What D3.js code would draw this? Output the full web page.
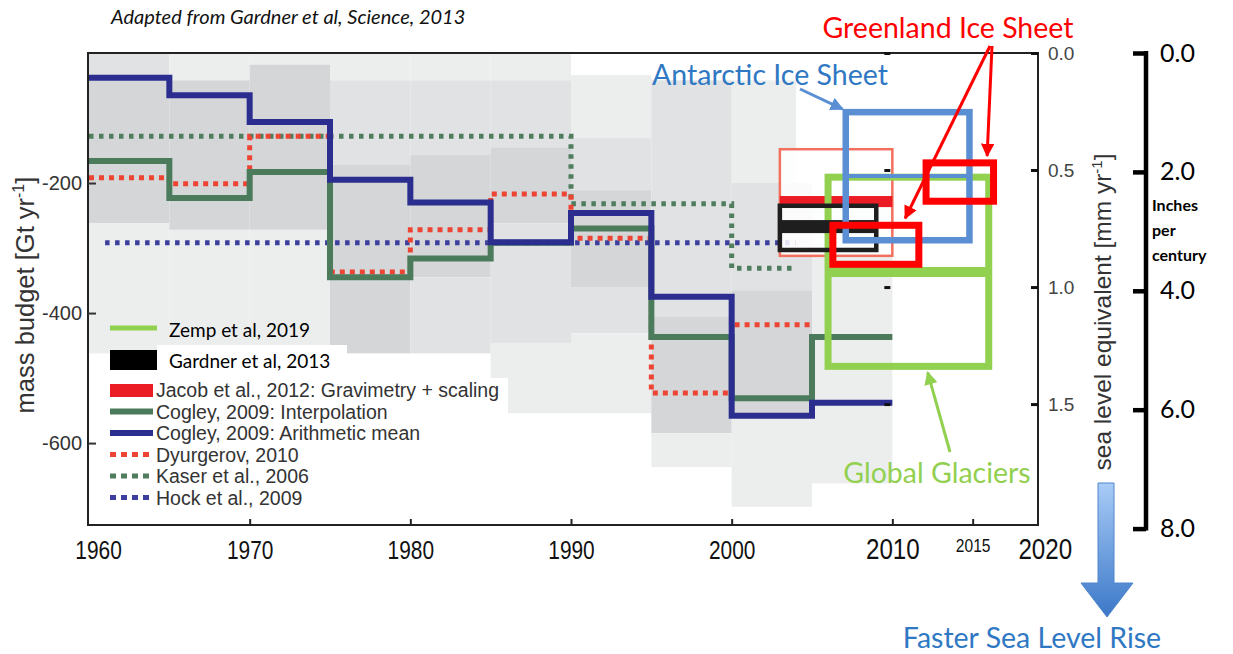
<!DOCTYPE html>
<html lang="en">
<head>
<meta charset="UTF-8">
<title>Global glacier mass budgets</title>
<script src="https://d3js.org/d3.v7.min.js"></script>
<style>
  body { margin: 0; background: #fff; }
  svg { display: block; }
  .cal { font-family: Lato, "Open Sans", sans-serif; }
  .ari { font-family: "Liberation Sans", Arial, sans-serif; }
</style>
</head>
<body>
<svg id="chart" width="1233" height="654"></svg>
<script>
// pentad start years, Cogley 2009 and Dyurgerov 2010 (Gt/yr)
const pentads      = [1960, 1965, 1970, 1975, 1980, 1985, 1990, 1995, 2000, 2005];
const cogleyMean   = [-38, -65, -106, -195, -230, -291, -246, -375, -558, -538];
const cogleyInterp = [-166, -223, -183, -345, -316, -292, -270, -437, -531, -437];
const dyurgerov    = [-192, -201, -128, -337, -272, -217, -285, -523, -418];
// Kaser 2006 and Hock 2009
const kaserYears = [1960, 1990, 2000, 2004];
const kaser      = [-128, -232, -331];
const hockYears  = [1961, 2004];
const hock       = [-292];
// Gardner 2013, Jacob 2012 (2003-2009/2010)
const gardnerYears = [2003, 2009];
const gardnerRange = [-235, -303];
const gardnerMean  = [-257, -277];
const jacobYears = [2003, 2010];
const jacobRange = [-148, -312];
const jacobMean  = [-220, -237];
// Zemp 2019 global glaciers (2006-2016)
const zempYears = [2006, 2016];
const zempRange = [-191, -482];
const zempMean  = -337;
// ice sheets, drawn in the same units
const aisYears = [2007.1, 2014.8];
const aisRange = [-91, -288];
const aisMid   = -189;
const gisBoxes = [[2006.3, 2011.65, -265, -325], [2012.1, 2016.3, -169, -228]];
// grey uncertainty shading: start, end, top, bottom, depth
const shading = [
  [1960,1965,0,-42,2],[1960,1965,-42,-262,3],[1960,1965,-262,-462,1],
  [1965,1970,0,-42,1],[1965,1970,-42,-272,3],[1965,1970,-272,-462,1],
  [1970,1975,0,-18,1],[1970,1975,-18,-272,3],[1970,1975,-272,-462,1],
  [1975,1980,0,-42,1],[1975,1980,-42,-172,2],[1975,1980,-172,-462,3],
  [1980,1985,0,-42,1],[1980,1985,-42,-157,2],[1980,1985,-157,-345,3],[1980,1985,-345,-462,2],
  [1985,1990,0,-42,1],[1985,1990,-42,-145,2],[1985,1990,-145,-262,3],[1985,1990,-262,-446,2],[1985,1990,-446,-554,1],
  [1990,1995,-34,-131,1],[1990,1995,-131,-211,2],[1990,1995,-211,-360,3],[1990,1995,-360,-431,2],[1990,1995,-431,-554,1],
  [1995,2000,-42,-406,2],[1995,2000,-406,-585,3],[1995,2000,-585,-637,1],
  [2000,2004,-42,-200,1],
  [2000,2005,-200,-365,2],[2000,2005,-365,-554,3],[2000,2005,-554,-698,1],
  [2005,2010,-211,-662,1]
];
const xTicks   = [1960, 1970, 1980, 1990, 2000, 2010, 2015, 2020];
const gtTicks  = [-200, -400, -600];
const mmTicks  = [0, 0.5, 1.0, 1.5];
const inTicks  = [0, 2, 4, 6, 8];

const svg = d3.select("#chart");
const pLeft = 88, pRight = 1038, pTop = 53, pBottom = 525;
const x = d3.scaleLinear().domain([1960, 2020]).range([89, 1053]);
const y = d3.scaleLinear().domain([0, -726]).range([pTop, pBottom]);
const sle = d3.scaleLinear().domain([0, 726 / 360]).range([pTop, pBottom]);          // mm/yr
const inch = d3.scaleLinear().domain([0, 726 / 360 * 100 / 25.4]).range([pTop, pBottom]); // in/century
const greys = ["#ffffff", "#eceeee", "#e0e2e3", "#d4d6d8"];

const defs = svg.append("defs");
function marker(id, color) {
  defs.append("marker").attr("id", id).attr("viewBox", "0 0 10 10")
    .attr("refX", 9).attr("refY", 5).attr("markerWidth", 4.5).attr("markerHeight", 4.5)
    .attr("markerUnits", "strokeWidth").attr("orient", "auto")
    .append("path").attr("d", "M0,0L10,5L0,10z").attr("fill", color);
}
marker("hRed", "#ff0000"); marker("hBlue", "#5b8fd4"); marker("hGreen", "#92d050");
const grad = defs.append("linearGradient").attr("id", "fall").attr("x1", 0).attr("y1", 0).attr("x2", 0).attr("y2", 1);
grad.append("stop").attr("offset", "0%").attr("stop-color", "#a9cbf7");
grad.append("stop").attr("offset", "100%").attr("stop-color", "#3b78c8");

// 1. grey shading
svg.append("g").selectAll("rect").data(shading).enter().append("rect")
  .attr("x", d => x(d[0])).attr("width", d => x(d[1]) - x(d[0]))
  .attr("y", d => y(d[2])).attr("height", d => y(d[3]) - y(d[2]))
  .attr("fill", d => greys[d[4]]);

// legend backing
svg.append("rect").attr("x", 98).attr("y", 378).attr("width", 410).attr("height", 140).attr("fill", "#fff");
svg.append("rect").attr("x", 157).attr("y", 345).attr("width", 190).attr("height", 33).attr("fill", "#fff");

// 2. step lines
function steps(starts, vals, end) {
  const pts = starts.slice(0, vals.length).map((s, i) => [s, vals[i]]);
  pts.push([end, vals[vals.length - 1]]);
  return pts;
}
const step = d3.line().x(d => x(d[0])).y(d => y(d[1])).curve(d3.curveStepAfter);
const series = [
  {pts: steps(hockYears, hock, hockYears[1]), color: "#3d3f9e", w: 5, dash: "4.5,5.5"},
  {pts: steps(kaserYears, kaser, kaserYears[3]), color: "#4f7d5e", w: 5, dash: "4.5,5.5"},
  {pts: steps(pentads, dyurgerov, 2005), color: "#ee4433", w: 5, dash: "5,5"},
  {pts: steps(pentads, cogleyInterp, 2010), color: "#4b7b5b", w: 6},
  {pts: steps(pentads, cogleyMean, 2010), color: "#2b2e8f", w: 6}
];
svg.append("g").selectAll("path").data(series).enter().append("path")
  .attr("d", d => step(d.pts)).attr("fill", "none")
  .attr("stroke", d => d.color).attr("stroke-width", d => d.w)
  .attr("stroke-dasharray", d => d.dash || null);

// 3. Jacob 2012
svg.append("rect").attr("x", x(jacobYears[0])).attr("y", y(jacobRange[0]))
  .attr("width", x(jacobYears[1]) - x(jacobYears[0])).attr("height", y(jacobRange[1]) - y(jacobRange[0]))
  .attr("fill", "#fff").attr("fill-opacity", 0.85).attr("stroke", "#f2705e").attr("stroke-width", 2.5);
svg.append("rect").attr("x", x(jacobYears[0])).attr("y", y(jacobMean[0]))
  .attr("width", x(jacobYears[1]) - x(jacobYears[0])).attr("height", y(jacobMean[1]) - y(jacobMean[0]))
  .attr("fill", "#ec1c24");

// Zemp 2019 box
svg.append("rect").attr("x", x(zempYears[0])).attr("y", y(zempRange[0]))
  .attr("width", x(zempYears[1]) - x(zempYears[0])).attr("height", y(zempRange[1]) - y(zempRange[0]))
  .attr("fill", "none").attr("stroke", "#92d050").attr("stroke-width", 7);
svg.append("line").attr("x1", x(zempYears[0])).attr("x2", x(zempYears[1]))
  .attr("y1", y(zempMean)).attr("y2", y(zempMean)).attr("stroke", "#92d050").attr("stroke-width", 10);

// Gardner 2013
svg.append("rect").attr("x", x(gardnerYears[0])).attr("y", y(gardnerRange[0]))
  .attr("width", x(gardnerYears[1]) - x(gardnerYears[0])).attr("height", y(gardnerRange[1]) - y(gardnerRange[0]))
  .attr("fill", "none").attr("stroke", "#1e1e1e").attr("stroke-width", 4.5);
svg.append("rect").attr("x", x(gardnerYears[0])).attr("y", y(gardnerMean[0]))
  .attr("width", x(gardnerYears[1]) - x(gardnerYears[0])).attr("height", y(gardnerMean[1]) - y(gardnerMean[0]))
  .attr("fill", "#1e1e1e");

// Antarctic box
svg.append("rect").attr("x", x(aisYears[0])).attr("y", y(aisRange[0]))
  .attr("width", x(aisYears[1]) - x(aisYears[0])).attr("height", y(aisRange[1]) - y(aisRange[0]))
  .attr("fill", "none").attr("stroke", "#5b8fd4").attr("stroke-width", 6.5);
svg.append("line").attr("x1", x(aisYears[0])).attr("x2", x(aisYears[1]))
  .attr("y1", y(aisMid)).attr("y2", y(aisMid)).attr("stroke", "#5b8fd4").attr("stroke-width", 4);

// Greenland boxes
svg.append("g").selectAll("rect").data(gisBoxes).enter().append("rect")
  .attr("x", d => x(d[0])).attr("y", d => y(d[2]))
  .attr("width", d => x(d[1]) - x(d[0])).attr("height", d => y(d[3]) - y(d[2]))
  .attr("fill", "none").attr("stroke", "#ff0000").attr("stroke-width", 7);

// 4. frame and axes
svg.append("rect").attr("x", pLeft).attr("y", pTop).attr("width", pRight - pLeft).attr("height", pBottom - pTop)
  .attr("fill", "none").attr("stroke", "#222").attr("stroke-width", 2);

const gAxL = svg.append("g").attr("transform", `translate(${pLeft},0)`)
  .call(d3.axisLeft(y).tickValues(gtTicks).tickSize(-8).tickPadding(6).tickFormat(d => String(d)));
gAxL.select(".domain").remove();
gAxL.selectAll("line").attr("stroke", "#333").attr("stroke-width", 2);
gAxL.selectAll("text").attr("class", "ari").attr("font-size", 20).attr("fill", "#333");

const gAxB = svg.append("g").attr("transform", `translate(0,${pBottom})`)
  .call(d3.axisBottom(x).tickValues(xTicks).tickSize(-6).tickPadding(16).tickFormat(d3.format("d")));
gAxB.select(".domain").remove();
gAxB.selectAll("line").attr("stroke", "#222").attr("stroke-width", 2)
  .attr("display", d => (d === 1960 || d === 2020) ? "none" : null);
// condensed look of the original tick labels
gAxB.selectAll("text")
  .attr("class", "ari").attr("transform", "scale(0.82,1)")
  .attr("font-size", d => d === 2015 ? 19 : (d === 2010 || d === 2020) ? 29.5 : 25.5)
  .attr("fill", "#111")
  .attr("dy", d => d === 2015 ? "0.6em" : (d === 2010 || d === 2020) ? "0.6em" : "0.71em")
  .attr("dx", d => d === 1960 ? 11 : d === 2020 ? -10 : 0);

// old right axis at 2010
const gOld = svg.append("g").attr("transform", `translate(${x(2010) - 2},0)`)
  .call(d3.axisRight(sle).tickValues(mmTicks).tickSize(-6).tickFormat(""));
gOld.select(".domain").remove();
gOld.selectAll("line").attr("stroke", "#111").attr("stroke-width", 3);

const gAxR = svg.append("g").attr("transform", `translate(${pRight},0)`)
  .call(d3.axisRight(sle).tickValues(mmTicks).tickSize(-7).tickPadding(10).tickFormat(d3.format(".1f")));
gAxR.select(".domain").remove();
gAxR.selectAll("line").attr("stroke", "#111").attr("stroke-width", 3);
gAxR.selectAll("text").attr("class", "ari").attr("font-size", 19).attr("fill", "#444");

const gIn = svg.append("g").attr("transform", "translate(1146,0)")
  .call(d3.axisRight(inch).tickValues(inTicks).tickSize(-13).tickSizeOuter(0).tickPadding(14).tickFormat(d3.format(".1f")));
gIn.select(".domain").attr("stroke", "#000").attr("stroke-width", 4.5)
  .attr("d", `M0,${inch(0) - 2}V${inch(8) + 2}`);
gIn.selectAll("line").attr("stroke", "#000").attr("stroke-width", 4.5);
gIn.selectAll("text").attr("class", "cal").attr("font-size", 25).attr("fill", "#000");

// axis titles
const tL = svg.append("text").attr("class", "ari").attr("font-size", 25.5).attr("fill", "#333")
  .attr("text-anchor", "middle").attr("transform", "translate(34,295) rotate(-90)");
tL.append("tspan").text("mass budget [Gt yr");
tL.append("tspan").attr("font-size", 16).attr("dy", -10).text("-1");
tL.append("tspan").attr("dy", 10).text("]");
const tR = svg.append("text").attr("class", "ari").attr("font-size", 24.5).attr("fill", "#333")
  .attr("text-anchor", "middle").attr("transform", "translate(1111,312) rotate(-90)");
tR.append("tspan").text("sea level equivalent [mm yr");
tR.append("tspan").attr("font-size", 15).attr("dy", -9).text("-1");
tR.append("tspan").attr("dy", 9).text("]");

["Inches", "per", "century"].forEach((t, i) => {
  svg.append("text").attr("class", "cal").attr("x", 1152).attr("y", 211 + i * 25)
    .attr("font-size", 16).attr("font-weight", 700).attr("fill", "#000").text(t);
});

svg.append("text").attr("class", "cal").attr("x", 111).attr("y", 24).attr("font-size", 20)
  .attr("font-style", "italic").attr("fill", "#111").text("Adapted from Gardner et al, Science, 2013");

// 5. legend
const legRows = [
  {label: "Jacob et al., 2012: Gravimetry + scaling", color: "#ec1c24", kind: "box"},
  {label: "Cogley, 2009: Interpolation", color: "#4b7b5b", kind: "line"},
  {label: "Cogley, 2009: Arithmetic mean", color: "#2b2e8f", kind: "line"},
  {label: "Dyurgerov, 2010", color: "#ee4433", kind: "dot"},
  {label: "Kaser et al., 2006", color: "#4f7d5e", kind: "dot"},
  {label: "Hock et al., 2009", color: "#3d3f9e", kind: "dot"}
];
svg.append("line").attr("x1", 110).attr("x2", 157).attr("y1", 328).attr("y2", 328)
  .attr("stroke", "#92d050").attr("stroke-width", 5);
svg.append("text").attr("class", "cal").attr("x", 169).attr("y", 337).attr("font-size", 19)
  .attr("fill", "#000").text("Zemp et al, 2019");
svg.append("rect").attr("x", 110).attr("y", 350).attr("width", 47).attr("height", 20).attr("fill", "#000");
svg.append("text").attr("class", "cal").attr("x", 169).attr("y", 368).attr("font-size", 19)
  .attr("fill", "#000").text("Gardner et al, 2013");
legRows.forEach((r, i) => {
  const cy = 390 + i * 21.5;
  if (r.kind === "box") {
    svg.append("rect").attr("x", 110).attr("y", cy - 6).attr("width", 43).attr("height", 13).attr("fill", r.color);
  } else {
    svg.append("line").attr("x1", 110).attr("x2", 153).attr("y1", cy).attr("y2", cy)
      .attr("stroke", r.color).attr("stroke-width", r.kind === "line" ? 6 : 5)
      .attr("stroke-dasharray", r.kind === "dot" ? "6,5" : null);
  }
  svg.append("text").attr("class", "ari").attr("x", 156).attr("y", cy + 7).attr("font-size", 19.5)
    .attr("fill", "#333").text(r.label);
});

// 6. annotations
svg.append("text").attr("class", "cal").attr("x", 948).attr("y", 38).attr("text-anchor", "middle")
  .attr("font-size", 28.5).attr("fill", "#ff0000").text("Greenland Ice Sheet");
svg.append("text").attr("class", "cal").attr("x", 770).attr("y", 85).attr("text-anchor", "middle")
  .attr("font-size", 28.5).attr("fill", "#2f78c4").text("Antarctic Ice Sheet");
svg.append("text").attr("class", "cal").attr("x", 937).attr("y", 483).attr("text-anchor", "middle")
  .attr("font-size", 28.5).attr("fill", "#92d050").text("Global Glaciers");
svg.append("text").attr("class", "cal").attr("x", 1032).attr("y", 648).attr("text-anchor", "middle")
  .attr("font-size", 28.5).attr("fill", "#2f78c4").text("Faster Sea Level Rise");

function arrow(x1, y1, x2, y2, color, id) {
  svg.append("line").attr("x1", x1).attr("y1", y1).attr("x2", x2).attr("y2", y2)
    .attr("stroke", color).attr("stroke-width", 3).attr("marker-end", `url(#${id})`);
}
arrow(990, 46, x(2010.8), y(gisBoxes[0][2]) - 7, "#ff0000", "hRed");
arrow(992, 46, x(2015.9), y(gisBoxes[1][2]) - 7, "#ff0000", "hRed");
arrow(800, 89, x(aisYears[0]) - 3, y(aisRange[0]) - 3, "#5b8fd4", "hBlue");
arrow(950, 452, x(2012.2), y(zempRange[1]) + 6, "#92d050", "hGreen");

svg.append("path").attr("d", "M1098,483H1114V583H1133L1107,617L1081,583H1098Z")
  .attr("fill", "url(#fall)").attr("stroke", "#4f86cc").attr("stroke-width", 1);
</script>
</body>
</html>
